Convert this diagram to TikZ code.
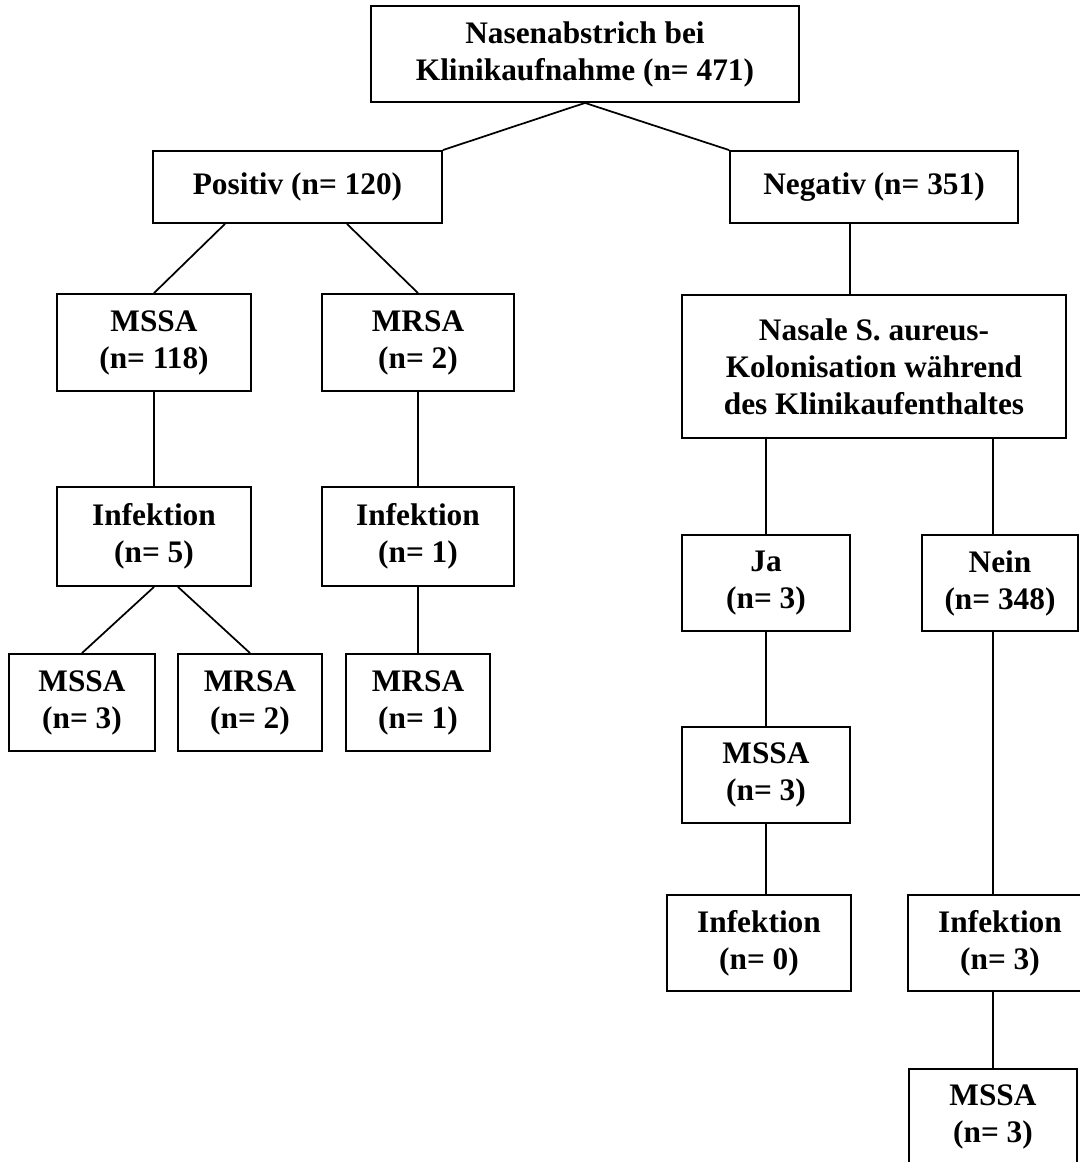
\documentclass[tikz,border=0pt]{standalone}
\usepackage{fontspec}
\setmainfont{Liberation Serif}
\begin{document}
\begin{tikzpicture}[x=0.75pt,y=-0.75pt,
  box/.style={draw, line width=1.4pt, align=center, inner sep=0pt,
    font=\bfseries\fontsize{23.5}{27.75}\selectfont},
  link/.style={line width=1.3pt}]
  \useasboundingbox (0,0) rectangle (1080,1162);
  % top and first split
  \node[box, minimum width=321pt, minimum height=72pt] (top) at (585,54)
    {Nasenabstrich bei\\Klinikaufnahme (n= 471)};
  \node[box, minimum width=216.75pt, minimum height=54pt] (pos) at (297.5,187)
    {Positiv (n= 120)};
  \node[box, minimum width=216pt, minimum height=54pt] (neg) at (874,187)
    {Negativ (n= 351)};
  % positive branch
  \node[box, minimum width=145.5pt, minimum height=72.75pt] (mssa1) at (154,342.5)
    {MSSA\\(n= 118)};
  \node[box, minimum width=144pt, minimum height=72.75pt] (mrsa1) at (418,342.5)
    {MRSA\\(n= 2)};
  \node[box, minimum width=145.5pt, minimum height=74.25pt] (inf1) at (154,536.5)
    {Infektion\\(n= 5)};
  \node[box, minimum width=144pt, minimum height=74.25pt] (inf2) at (418,536.5)
    {Infektion\\(n= 1)};
  \node[box, minimum width=109.5pt, minimum height=72.75pt] (mssa2) at (82,702.5)
    {MSSA\\(n= 3)};
  \node[box, minimum width=108pt, minimum height=72.75pt] (mrsa2) at (250,702.5)
    {MRSA\\(n= 2)};
  \node[box, minimum width=108pt, minimum height=72.75pt] (mrsa3) at (418,702.5)
    {MRSA\\(n= 1)};
  % negative branch
  \node[box, minimum width=288pt, minimum height=107.25pt] (nas) at (874,366.5)
    {Nasale S. aureus-\\Kolonisation während\\des Klinikaufenthaltes};
  \node[box, minimum width=126pt, minimum height=72pt] (ja) at (766,583)
    {Ja\\(n= 3)};
  \node[box, minimum width=117pt, minimum height=72pt] (nein) at (1000,583)
    {Nein\\(n= 348)};
  \node[box, minimum width=126pt, minimum height=72pt] (mssa3) at (766,775)
    {MSSA\\(n= 3)};
  \node[box, minimum width=138pt, minimum height=72pt] (inf3) at (759,943)
    {Infektion\\(n= 0)};
  \node[box, minimum width=138pt, minimum height=72pt] (inf4) at (1000,943)
    {Infektion\\(n= 3)};
  \node[box, minimum width=126pt, minimum height=72pt] (mssa4) at (993,1117)
    {MSSA\\(n= 3)};
  % connectors
  \draw[link] (top.south) -- (pos.north east);
  \draw[link] (top.south) -- (neg.north west);
  \draw[link] ([xshift=-54.4pt]pos.south) -- (mssa1.north);
  \draw[link] ([xshift=37.1pt]pos.south) -- (mrsa1.north);
  \draw[link] (mssa1.south) -- (inf1.north);
  \draw[link] (mrsa1.south) -- (inf2.north);
  \draw[link] (inf1.south) -- (mssa2.north);
  \draw[link] ([xshift=18pt]inf1.south) -- (mrsa2.north);
  \draw[link] (inf2.south) -- (mrsa3.north);
  \draw[link] ([xshift=-18pt]neg.south) -- ([xshift=-18pt]nas.north);
  \draw[link] (ja.north |- nas.south) -- (ja.north);
  \draw[link] ([xshift=-5.25pt]nein.north |- nas.south) -- ([xshift=-5.25pt]nein.north);
  \draw[link] (ja.south) -- (mssa3.north);
  \draw[link] (mssa3.south) -- (mssa3.south |- inf3.north);
  \draw[link] ([xshift=-5.25pt]nein.south) -- ([xshift=-5.25pt]nein.south |- inf4.north);
  \draw[link] (inf4.south -| mssa4.north) -- (mssa4.north);
\end{tikzpicture}
\end{document}
